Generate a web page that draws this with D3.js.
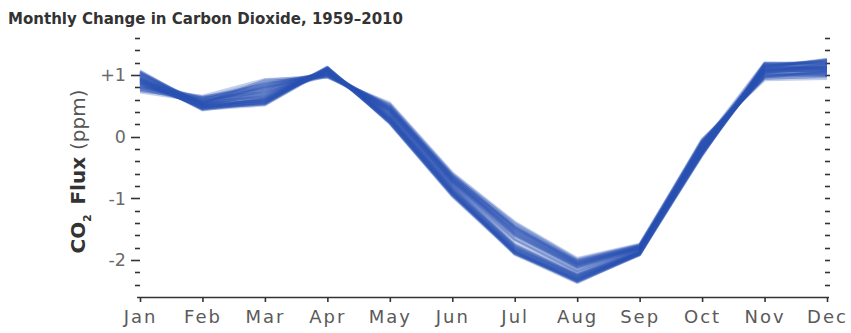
<!DOCTYPE html>
<html>
<head>
<meta charset="utf-8">
<script src="https://cdn.jsdelivr.net/npm/d3@7"></script>
<style>
  html, body { margin: 0; padding: 0; background: #fff; }
  svg { display: block; }
</style>
</head>
<body>
<svg id="chart" width="851" height="333"></svg>
<script>
// Month categories along the x axis
const months = ["Jan","Feb","Mar","Apr","May","Jun","Jul","Aug","Sep","Oct","Nov","Dec"];

// Y tick labels (ppm)
const yMajorTicks = [1, 0, -1, -2];
const yTickLabels = ["+1", "0", "-1", "-2"];

// First year of the record; one row per year below
const firstYear = 1959;

// Monthly change in CO2 (ppm), one row per year 1959–2010, Jan..Dec
const fluxByYear = [
  [0.74, 0.62, 0.90, 0.96, 0.55, -0.58, -1.38, -1.97, -1.74, -0.08, 0.95, 0.97],
  [0.86, 0.55, 0.82, 1.00, 0.48, -0.64, -1.44, -2.02, -1.77, -0.18, 1.02, 1.05],
  [0.79, 0.66, 0.93, 0.97, 0.52, -0.61, -1.40, -1.99, -1.75, -0.04, 0.92, 0.94],
  [0.83, 0.58, 0.78, 1.02, 0.46, -0.66, -1.47, -2.04, -1.78, -0.22, 1.05, 1.10],
  [0.76, 0.64, 0.86, 0.98, 0.53, -0.60, -1.42, -2.00, -1.76, -0.10, 0.97, 0.99],
  [0.88, 0.52, 0.75, 1.01, 0.44, -0.68, -1.49, -2.06, -1.79, -0.26, 1.08, 1.12],
  [0.81, 0.60, 0.88, 0.99, 0.50, -0.63, -1.45, -2.01, -1.76, -0.06, 0.94, 0.98],
  [0.72, 0.57, 0.80, 0.97, 0.47, -0.65, -1.46, -2.03, -1.77, -0.15, 1.00, 1.02],
  [0.90, 0.63, 0.84, 1.03, 0.49, -0.62, -1.48, -2.05, -1.78, -0.12, 0.98, 1.04],
  [0.78, 0.54, 0.92, 1.00, 0.51, -0.67, -1.50, -2.02, -1.80, -0.20, 1.03, 1.00],
  [0.85, 0.59, 0.72, 0.98, 0.43, -0.70, -1.51, -2.07, -1.79, -0.07, 0.96, 1.06],
  [0.80, 0.65, 0.79, 1.04, 0.45, -0.64, -1.47, -2.04, -1.77, -0.24, 1.06, 1.08],
  [0.87, 0.56, 0.87, 1.01, 0.48, -0.69, -1.53, -2.08, -1.80, -0.11, 0.99, 1.01],
  [0.75, 0.61, 0.76, 0.99, 0.42, -0.71, -1.52, -2.06, -1.81, -0.17, 1.04, 1.11],
  [0.92, 0.53, 0.83, 1.05, 0.46, -0.66, -1.55, -2.09, -1.79, -0.05, 0.97, 1.03],
  [0.82, 0.58, 0.70, 1.02, 0.40, -0.72, -1.54, -2.07, -1.81, -0.21, 1.07, 1.07],
  [0.89, 0.62, 0.81, 1.00, 0.44, -0.70, -1.56, -2.10, -1.80, -0.13, 1.01, 0.99],
  [0.77, 0.55, 0.74, 1.06, 0.41, -0.73, -1.57, -2.11, -1.82, -0.27, 1.09, 1.13],
  [0.93, 0.60, 0.85, 1.03, 0.47, -0.68, -1.58, -2.08, -1.81, -0.09, 0.98, 1.05],
  [0.84, 0.51, 0.68, 1.01, 0.39, -0.74, -1.59, -2.12, -1.82, -0.19, 1.05, 1.09],
  [0.91, 0.57, 0.77, 1.07, 0.42, -0.72, -1.60, -2.13, -1.83, -0.14, 1.02, 1.14],
  [0.79, 0.63, 0.71, 1.04, 0.38, -0.75, -1.61, -2.11, -1.82, -0.23, 1.10, 1.02],
  [0.95, 0.54, 0.80, 1.02, 0.43, -0.73, -1.62, -2.14, -1.83, -0.08, 0.99, 1.08],
  [0.86, 0.59, 0.66, 1.08, 0.36, -0.76, -1.66, -2.17, -1.84, -0.28, 1.08, 1.15],
  [0.94, 0.50, 0.73, 1.05, 0.40, -0.78, -1.67, -2.18, -1.83, -0.16, 1.04, 1.06],
  [0.81, 0.56, 0.64, 1.03, 0.35, -0.77, -1.68, -2.19, -1.84, -0.12, 1.11, 1.12],
  [0.97, 0.52, 0.69, 1.09, 0.34, -0.80, -1.73, -2.21, -1.85, -0.25, 1.06, 1.17],
  [0.88, 0.48, 0.61, 1.06, 0.37, -0.82, -1.76, -2.24, -1.86, -0.10, 1.12, 1.04],
  [1.00, 0.55, 0.65, 1.10, 0.32, -0.79, -1.75, -2.23, -1.85, -0.20, 1.03, 1.19],
  [0.90, 0.47, 0.58, 1.07, 0.35, -0.84, -1.77, -2.25, -1.87, -0.29, 1.13, 1.10],
  [0.98, 0.53, 0.67, 1.08, 0.30, -0.81, -1.78, -2.24, -1.86, -0.14, 1.08, 1.21],
  [0.85, 0.49, 0.60, 1.11, 0.33, -0.86, -1.79, -2.26, -1.87, -0.23, 1.15, 1.07],
  [1.02, 0.51, 0.63, 1.06, 0.29, -0.83, -1.80, -2.27, -1.88, -0.09, 1.05, 1.16],
  [0.92, 0.46, 0.56, 1.09, 0.31, -0.88, -1.81, -2.25, -1.87, -0.27, 1.16, 1.22],
  [0.99, 0.52, 0.62, 1.12, 0.28, -0.85, -1.82, -2.28, -1.88, -0.18, 1.10, 1.13],
  [0.87, 0.48, 0.59, 1.07, 0.32, -0.87, -1.80, -2.29, -1.89, -0.30, 1.17, 1.09],
  [1.03, 0.54, 0.57, 1.10, 0.27, -0.90, -1.83, -2.27, -1.88, -0.13, 1.07, 1.20],
  [0.94, 0.45, 0.64, 1.08, 0.30, -0.86, -1.84, -2.30, -1.89, -0.24, 1.14, 1.24],
  [1.01, 0.50, 0.55, 1.11, 0.26, -0.91, -1.85, -2.31, -1.88, -0.11, 1.09, 1.11],
  [0.89, 0.47, 0.61, 1.09, 0.29, -0.89, -1.83, -2.29, -1.90, -0.28, 1.18, 1.18],
  [1.04, 0.53, 0.58, 1.07, 0.25, -0.92, -1.86, -2.32, -1.89, -0.19, 1.11, 1.25],
  [0.96, 0.44, 0.54, 1.12, 0.28, -0.88, -1.87, -2.30, -1.90, -0.26, 1.15, 1.14],
  [1.05, 0.49, 0.60, 1.10, 0.24, -0.93, -1.85, -2.33, -1.89, -0.15, 1.12, 1.23],
  [0.91, 0.46, 0.53, 1.08, 0.27, -0.90, -1.88, -2.31, -1.91, -0.31, 1.19, 1.16],
  [1.06, 0.51, 0.59, 1.13, 0.23, -0.94, -1.86, -2.34, -1.90, -0.22, 1.13, 1.26],
  [0.95, 0.43, 0.56, 1.09, 0.26, -0.91, -1.89, -2.32, -1.89, -0.12, 1.20, 1.19],
  [1.02, 0.48, 0.52, 1.11, 0.22, -0.95, -1.87, -2.35, -1.91, -0.27, 1.14, 1.22],
  [0.93, 0.45, 0.57, 1.10, 0.25, -0.92, -1.90, -2.33, -1.90, -0.20, 1.17, 1.12],
  [1.07, 0.50, 0.54, 1.12, 0.21, -0.96, -1.88, -2.36, -1.92, -0.29, 1.12, 1.25],
  [0.97, 0.44, 0.51, 1.09, 0.24, -0.93, -1.89, -2.34, -1.91, -0.16, 1.19, 1.18],
  [1.04, 0.49, 0.55, 1.13, 0.22, -0.97, -1.91, -2.37, -1.90, -0.25, 1.15, 1.24],
  [0.99, 0.46, 0.53, 1.11, 0.23, -0.94, -1.90, -2.35, -1.92, -0.21, 1.18, 1.21]
];

const svg = d3.select("#chart");
const plot = { left: 140, right: 827, top: 38, bottom: 297 };
const font = "DejaVu Sans, Verdana, sans-serif";

const x = d3.scalePoint().domain(months).range([plot.left, plot.right]);
const y = d3.scaleLinear().domain([-2.6, 1.6]).range([plot.bottom, plot.top]);

// Title
svg.append("text")
  .attr("x", 8).attr("y", 24)
  .attr("font-family", font)
  .attr("font-weight", "bold")
  .attr("font-size", 16.5)
  .attr("textLength", 395)
  .attr("lengthAdjust", "spacingAndGlyphs")
  .attr("fill", "#333")
  .text("Monthly Change in Carbon Dioxide, 1959\u20132010");

// Y tick marks: minor every 0.2, longer at whole ppm, on both sides of the plot
const minorVals = d3.range(-12, 9).map(i => +(i * 0.2).toFixed(1));
const tickG = svg.append("g").attr("stroke", "#333").attr("stroke-width", 1.6);
minorVals.forEach(v => {
  const major = Math.abs(v - Math.round(v)) < 1e-6;
  const yy = Math.round(y(v)) + 0.5;
  tickG.append("line")
    .attr("x1", plot.left - (major ? 9 : 5)).attr("x2", plot.left)
    .attr("y1", yy).attr("y2", yy);
  tickG.append("line")
    .attr("x1", plot.right - 2).attr("x2", plot.right + 3)
    .attr("y1", yy).attr("y2", yy);
});

// Y tick labels
svg.append("g").selectAll("text")
  .data(yMajorTicks)
  .join("text")
  .attr("x", 126)
  .attr("y", d => y(d))
  .attr("dy", "0.36em")
  .attr("text-anchor", "end")
  .attr("font-family", font)
  .attr("font-size", 17.5)
  .attr("fill", "#6a6a6a")
  .text((d, i) => yTickLabels[i]);

// Y axis title: CO₂ Flux (ppm)
const yTitle = svg.append("text")
  .attr("transform", `translate(85, ${(plot.top + plot.bottom) / 2 + 4}) rotate(-90)`)
  .attr("text-anchor", "middle")
  .attr("font-family", font)
  .attr("font-size", 20)
  .attr("fill", "#333");
yTitle.append("tspan").attr("font-weight", "bold").text("CO");
yTitle.append("tspan").attr("font-weight", "bold").attr("font-size", 10.5).attr("dy", 6).text("2");
yTitle.append("tspan").attr("font-weight", "bold").attr("dy", -6).text("\u2002Flux ");
yTitle.append("tspan").attr("fill", "#555").text("(ppm)");

// One line per year
const line = d3.line()
  .x((d, i) => x(months[i]))
  .y(d => y(d));

svg.append("g")
  .selectAll("path")
  .data(fluxByYear)
  .join("path")
  .attr("class", (d, i) => "year-" + (firstYear + i))
  .attr("d", line)
  .attr("fill", "none")
  .attr("stroke", "#2a52b2")
  .attr("stroke-width", 2.6)
  .attr("stroke-opacity", 0.28)
  .attr("stroke-linejoin", "round");

// X axis
const xAxis = svg.append("g")
  .attr("transform", `translate(0, ${plot.bottom})`)
  .call(d3.axisBottom(x).tickSize(5).tickPadding(8).tickSizeOuter(0));
xAxis.select(".domain")
  .attr("d", `M${plot.left - 3},0.5H${plot.right + 2}`)
  .attr("stroke", "#333").attr("stroke-width", 1.6);
xAxis.selectAll(".tick line").attr("stroke", "#333").attr("stroke-width", 1.6);
xAxis.selectAll(".tick text")
  .attr("font-family", font)
  .attr("font-size", 18)
  .attr("letter-spacing", "2px")
  .attr("fill", "#5a5a5a");
</script>
</body>
</html>
